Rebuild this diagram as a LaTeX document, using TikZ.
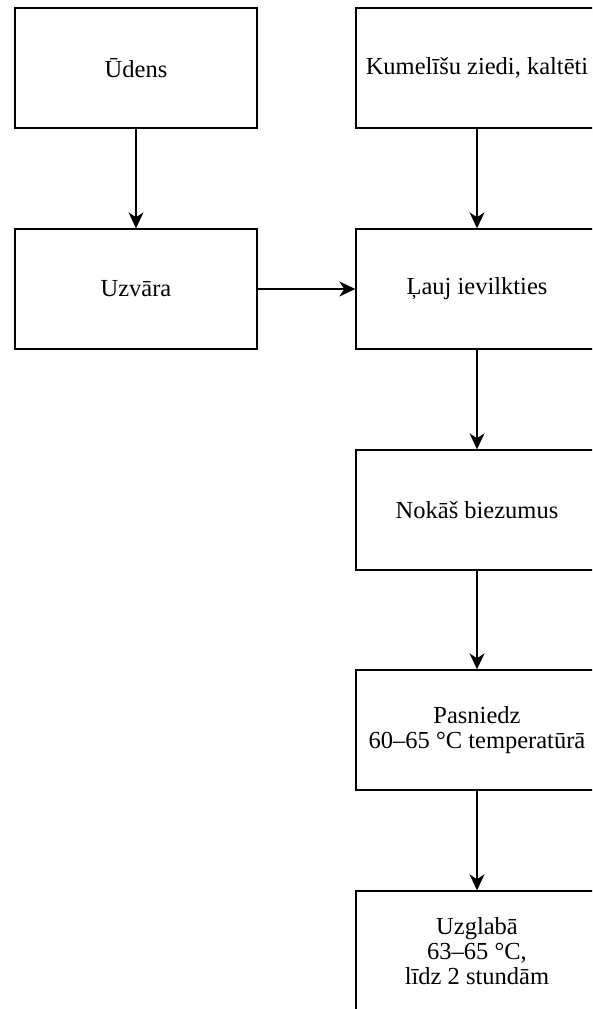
\documentclass[tikz,border=0pt]{standalone}
\usepackage{fontspec}
\setmainfont{Liberation Serif}
\usetikzlibrary{arrows.meta}
\begin{document}
\begin{tikzpicture}[x=1pt,y=-1pt,
  procbox/.style={draw, line width=1.4pt, minimum width=242pt, minimum height=120pt,
    inner sep=0pt, align=center, font=\fontsize{24.5}{25}\selectfont},
  flow/.style={line width=1.4pt, -{Stealth[length=16pt,width=15pt,inset=5pt]}}]
\clip (0,0) rectangle (592,1009);
\useasboundingbox (0,0) rectangle (592,1009);
\fill[white] (0,0) rectangle (592,1009);
\node[procbox] (udens) at (136,68) {Ūdens};
\node[procbox] (kum) at (477,68) {Kumelīšu ziedi, kaltēti};
\node[procbox] (uzv) at (136,289) {Uzvāra};
\node[procbox] (lauj) at (477,289) {Ļauj ievilkties};
\node[procbox] (nok) at (477,510) {Nokāš biezumus};
\node[procbox] (pasn) at (477,730) {Pasniedz\\60–65 °C temperatūrā};
\node[procbox] (uzgl) at (477,951) {Uzglabā\\63–65 °C,\\līdz 2 stundām};
\draw[flow] (udens) -- (uzv);
\draw[flow] (kum) -- (lauj);
\draw[flow] (uzv) -- (lauj);
\draw[flow] (lauj) -- (nok);
\draw[flow] (nok) -- (pasn);
\draw[flow] (pasn) -- (uzgl);
\end{tikzpicture}
\end{document}
